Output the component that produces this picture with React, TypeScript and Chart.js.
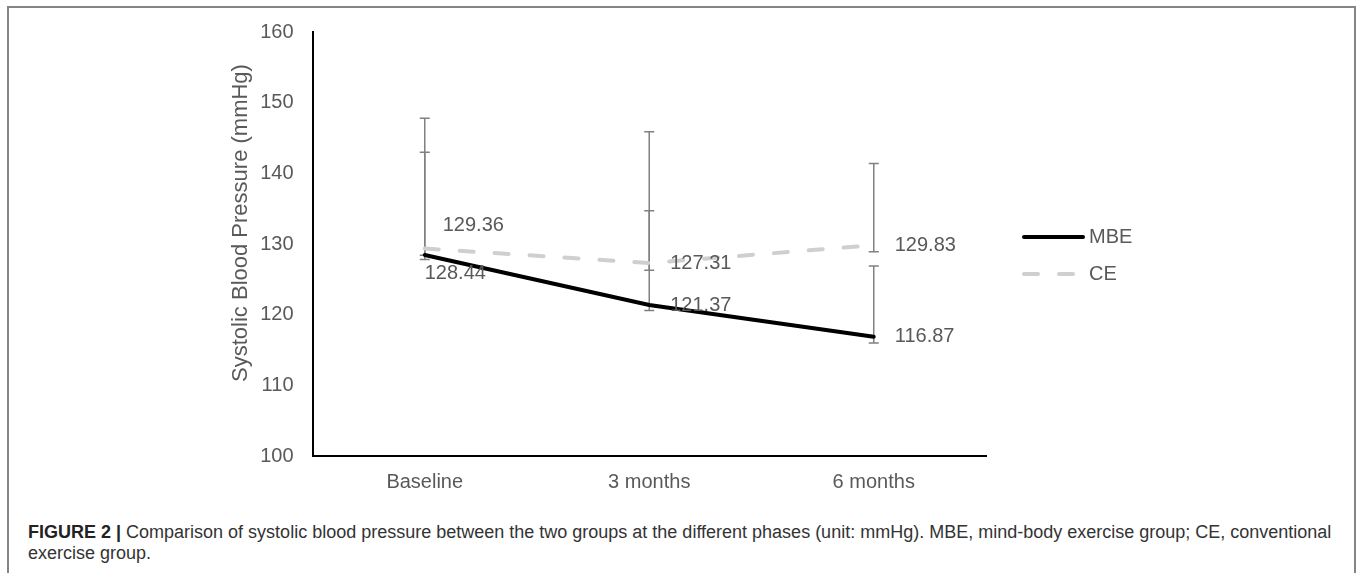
import React, { useEffect, useRef } from "react";
import { Chart, registerables } from "chart.js";

Chart.register(...registerables);

const categories = ["Baseline", "3 months", "6 months"];
const mbeValues = [128.44, 121.37, 116.87];
const ceValues = [129.36, 127.31, 129.83];
const mbeUpper = [143.0, 134.7, 126.9];
const mbeLower = [127.8, 120.6, 116.0];
const ceUpper = [147.8, 145.9, 141.4];
const ceLower = [128.4, 126.3, 128.9];
const yMin = 100;
const yMax = 160;
const yStep = 10;

const FONT = '"Liberation Sans", Arial, Helvetica, sans-serif';
const TEXT_GRAY = "#595959";

// label placement per dataset (styling config)
const labelPlacement: string[][] = [
  ["below", "right", "right"],
  ["above", "right", "right"],
];

const errorBars = [
  { upper: mbeUpper, lower: mbeLower },
  { upper: ceUpper, lower: ceLower },
];

const errorBarPlugin = {
  id: "errorBars",
  beforeDatasetsDraw(chart: any) {
    const { ctx, scales } = chart;
    const x = scales.x;
    const y = scales.y;
    ctx.save();
    ctx.strokeStyle = "#808080";
    ctx.lineWidth = 1.5;
    errorBars.forEach((eb) => {
      eb.upper.forEach((u, i) => {
        const px = x.getPixelForValue(i);
        const yt = y.getPixelForValue(u);
        const yb = y.getPixelForValue(eb.lower[i]);
        ctx.beginPath();
        ctx.moveTo(px, yt);
        ctx.lineTo(px, yb);
        ctx.moveTo(px - 5, yt);
        ctx.lineTo(px + 5, yt);
        ctx.moveTo(px - 5, yb);
        ctx.lineTo(px + 5, yb);
        ctx.stroke();
      });
    });
    ctx.restore();
  },
};

const dataLabelPlugin = {
  id: "dataLabels",
  afterDatasetsDraw(chart: any) {
    const { ctx } = chart;
    ctx.save();
    ctx.font = `20px ${FONT}`;
    ctx.fillStyle = TEXT_GRAY;
    ctx.textBaseline = "middle";
    ctx.textAlign = "left";
    chart.data.datasets.forEach((ds: any, di: number) => {
      const meta = chart.getDatasetMeta(di);
      meta.data.forEach((pt: any, i: number) => {
        const txt = ds.data[i].toFixed(2);
        const pos = labelPlacement[di][i];
        let lx = pt.x + 21;
        let ly = pt.y;
        if (pos === "above") {
          lx = pt.x + 18;
          ly = pt.y - 23;
        } else if (pos === "below") {
          lx = pt.x;
          ly = pt.y + 18;
        }
        ctx.fillText(txt, lx, ly);
      });
    });
    ctx.restore();
  },
};

const legendPlugin = {
  id: "customLegend",
  afterDraw(chart: any) {
    const { ctx, chartArea } = chart;
    const x0 = chartArea.right + 36;
    const mid = (chartArea.top + chartArea.bottom) / 2;
    const ys = [mid - 7, mid + 30];
    ctx.save();
    chart.data.datasets.forEach((ds: any, di: number) => {
      const yy = ys[di];
      ctx.beginPath();
      ctx.strokeStyle = ds.borderColor;
      ctx.lineWidth = ds.borderWidth;
      ctx.lineCap = "round";
      ctx.setLineDash(ds.borderDash || []);
      ctx.moveTo(x0 + 2, yy);
      ctx.lineTo(x0 + 61, yy);
      ctx.stroke();
      ctx.setLineDash([]);
      ctx.font = `20px ${FONT}`;
      ctx.fillStyle = TEXT_GRAY;
      ctx.textBaseline = "middle";
      ctx.textAlign = "left";
      ctx.fillText(ds.label, x0 + 67, yy);
    });
    ctx.restore();
  },
};

const yTitlePlugin = {
  id: "yTitle",
  afterDraw(chart: any) {
    const { ctx } = chart;
    ctx.save();
    ctx.translate(241, 223);
    ctx.rotate(-Math.PI / 2);
    ctx.font = `22px ${FONT}`;
    ctx.fillStyle = TEXT_GRAY;
    ctx.textAlign = "center";
    ctx.textBaseline = "middle";
    ctx.fillText("Systolic Blood Pressure (mmHg)", 0, 0);
    ctx.restore();
  },
};

export default function App() {
  const ref = useRef<HTMLCanvasElement | null>(null);

  useEffect(() => {
    if (!ref.current) return;
    const chart = new Chart(ref.current, {
      type: "line",
      data: {
        labels: categories,
        datasets: [
          {
            label: "MBE",
            data: mbeValues,
            borderColor: "#000000",
            borderWidth: 4,
            pointRadius: 0,
            tension: 0,
            borderCapStyle: "round",
          },
          {
            label: "CE",
            data: ceValues,
            borderColor: "#cfcfcf",
            borderWidth: 4,
            borderDash: [14, 21],
            borderCapStyle: "round",
            pointRadius: 0,
            tension: 0,
          },
        ],
      },
      options: {
        responsive: false,
        animation: false,
        devicePixelRatio: 1,
        layout: { padding: { top: 32, right: 371, bottom: 0, left: 0 } },
        plugins: {
          legend: { display: false },
          tooltip: { enabled: false },
          title: { display: false },
        },
        scales: {
          x: {
            type: "category",
            offset: true,
            grid: { display: false, drawTicks: false },
            border: { display: true, color: "#000000", width: 2 },
            ticks: {
              padding: 14,
              color: TEXT_GRAY,
              font: { size: 20, family: FONT },
            },
            afterFit(scale: any) {
              scale.height = 54;
            },
          },
          y: {
            min: yMin,
            max: yMax,
            grid: { display: false, drawTicks: false },
            border: { display: true, color: "#000000", width: 2 },
            ticks: {
              stepSize: yStep,
              padding: 19,
              color: TEXT_GRAY,
              font: { size: 20, family: FONT },
            },
            afterFit(scale: any) {
              scale.width = 312.5;
            },
          },
        },
      },
      plugins: [errorBarPlugin, dataLabelPlugin, legendPlugin, yTitlePlugin],
    } as any);
    return () => chart.destroy();
  }, []);

  return (
    <div
      style={{
        position: "absolute",
        left: 7,
        top: 6,
        width: 1349,
        height: 567,
        boxSizing: "border-box",
        border: "2px solid #858585",
        borderBottom: "none",
        overflow: "hidden",
        background: "#fff",
      }}
    >
      <canvas
        ref={ref}
        width={1357}
        height={510}
        style={{ position: "absolute", left: -9, top: -8 }}
      />
      <div
        style={{
          position: "absolute",
          left: 19,
          top: 514,
          width: 1318,
          fontFamily: FONT,
          fontSize: 18,
          lineHeight: "21px",
          color: "#333333",
        }}
      >
        <b style={{ color: "#222" }}>FIGURE 2 |</b> Comparison of systolic blood pressure between the two groups at the different phases (unit: mmHg). MBE, mind-body exercise group; CE, conventional exercise group.
      </div>
    </div>
  );
}
